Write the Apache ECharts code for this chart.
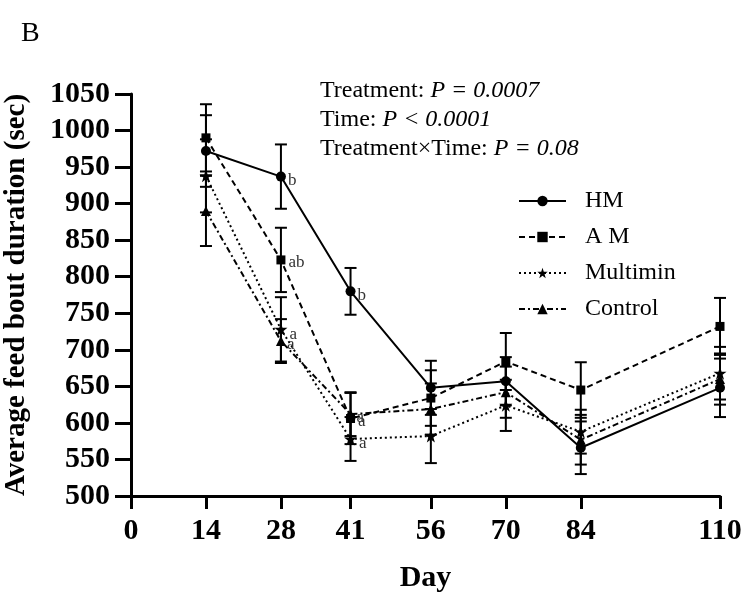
<!DOCTYPE html>
<html>
<head>
<meta charset="utf-8">
<script src="https://cdn.jsdelivr.net/npm/echarts@6/dist/echarts.min.js"></script>
<style>
  html, body { margin: 0; padding: 0; background: #fff; }
  #main { width: 748px; height: 601px; }
</style>
</head>
<body>
<div id="main"></div>
<script>
// 数据
var days = [14, 28, 41, 56, 70, 84, 110];
var dayTicks = [0, 14, 28, 41, 56, 70, 84, 110];

var hmMean = [972, 937, 780, 648, 657, 566, 648];
var hmSE = [49, 44, 32, 37, 33, 36, 40];
var hmLetters = ['', 'b', 'b', '', '', '', ''];

var amMean = [990, 823, 606, 634, 684, 645, 732];
var amSE = [46, 44, 35, 38, 39, 38, 39];
var amLetters = ['', 'ab', 'a', '', '', '', ''];

var multiMean = [938, 728, 578, 582, 624, 588, 668];
var multiSE = [50, 44, 30, 37, 35, 30, 36];
var multiLetters = ['', 'a', 'a', '', '', '', ''];

var ctrlMean = [890, 712, 612, 619, 642, 577, 660];
var ctrlSE = [48, 30, 30, 35, 35, 34, 35];
var ctrlLetters = ['', 'a', 'a', '', '', '', ''];

var serif = 'Liberation Serif';
var star = 'path://M0,-10 L2.35,-3.09 L9.51,-3.09 L3.8,1.18 L5.88,8.09 L0,3.82 L-5.88,8.09 L-3.8,1.18 L-9.51,-3.09 L-2.35,-3.09 Z';

function lineData(mean, letters, offset) {
	return days.map(function (d, i) {
		return {
			value: [d, mean[i]],
			label: {
				show: letters[i] !== '',
				formatter: letters[i],
				position: 'right',
				offset: offset,
				fontFamily: serif,
				fontSize: 17,
				color: '#333'
			}
		};
	});
}

function errData(mean, se) {
	return days.map(function (d, i) {
		return [d, mean[i] - se[i], mean[i] + se[i]];
	});
}

function renderErr(params, api) {
	var x = api.value(0);
	var top = api.coord([x, api.value(2)]);
	var bot = api.coord([x, api.value(1)]);
	var w = 6;
	var st = { stroke: '#000', lineWidth: 2 };
	return {
		type: 'group',
		children: [
			{ type: 'line', shape: { x1: top[0], y1: top[1], x2: bot[0], y2: bot[1] }, style: st },
			{ type: 'line', shape: { x1: top[0] - w, y1: top[1], x2: top[0] + w, y2: top[1] }, style: st },
			{ type: 'line', shape: { x1: bot[0] - w, y1: bot[1], x2: bot[0] + w, y2: bot[1] }, style: st }
		]
	};
}

function errSeries(mean, se) {
	return {
		type: 'custom',
		renderItem: renderErr,
		data: errData(mean, se),
		encode: { x: 0, y: [1, 2] },
		z: 1,
		silent: true
	};
}

function lineSeries(name, mean, letters, symbol, size, dash, offset) {
	return {
		type: 'line',
		name: name,
		data: lineData(mean, letters, offset),
		symbol: symbol,
		symbolSize: size,
		showAllSymbol: true,
		itemStyle: { color: '#000' },
		lineStyle: { color: '#000', width: 2, type: dash },
		z: 3
	};
}

echarts.init(document.getElementById('main')).setOption({
	animation: false,
	backgroundColor: '#fff',
	title: {
		text: 'B',
		left: 16,
		top: 15,
		textStyle: { fontFamily: serif, fontWeight: 'normal', fontSize: 28, color: '#000' }
	},
	grid: { left: 131, right: 28, top: 94, bottom: 105, outerBoundsMode: 'none', containLabel: false },
	legend: {
		orient: 'vertical',
		left: 513,
		top: 184,
		itemWidth: 47,
		itemHeight: 13,
		itemGap: 12,
		data: ['HM', 'A M', 'Multimin', 'Control'],
		textStyle: { fontFamily: serif, fontSize: 24, color: '#000', padding: [0, 0, 0, 14] }
	},
	graphic: [{
		type: 'text',
		left: 320,
		top: 79,
		style: {
			text: '{n|Treatment: }{i|P = 0.0007}\n{n|Time: }{i|P < 0.0001}\n{n|Treatment×Time: }{i|P = 0.08}',
			fill: '#000',
			rich: {
				n: { fontFamily: serif, fontSize: 24, lineHeight: 29, fill: '#000' },
				i: { fontFamily: serif, fontSize: 24, fontStyle: 'italic', lineHeight: 29, fill: '#000' }
			}
		}
	}],
	xAxis: {
		type: 'value',
		min: 0,
		max: 110,
		name: 'Day',
		nameLocation: 'middle',
		nameGap: 67,
		nameTextStyle: { fontFamily: serif, fontWeight: 'bold', fontSize: 30, color: '#000' },
		splitLine: { show: false },
		axisLine: { lineStyle: { color: '#000', width: 3 } },
		axisTick: { customValues: dayTicks, length: 13, lineStyle: { color: '#000', width: 3 } },
		axisLabel: {
			customValues: dayTicks,
			margin: 20,
			fontFamily: serif,
			fontWeight: 'bold',
			fontSize: 30,
			color: '#000'
		}
	},
	yAxis: {
		type: 'value',
		min: 500,
		max: 1050,
		interval: 50,
		name: 'Average feed bout duration (sec)',
		nameLocation: 'middle',
		nameGap: 100,
		nameTextStyle: { fontFamily: serif, fontWeight: 'bold', fontSize: 29, color: '#000' },
		splitLine: { show: false },
		axisLine: { show: true, lineStyle: { color: '#000', width: 3 } },
		axisTick: { show: true, length: 16, lineStyle: { color: '#000', width: 3 } },
		axisLabel: {
			margin: 21,
			formatter: function (v) { return String(v); },
			fontFamily: serif,
			fontWeight: 'bold',
			fontSize: 30,
			color: '#000'
		}
	},
	series: [
		errSeries(hmMean, hmSE),
		errSeries(amMean, amSE),
		errSeries(multiMean, multiSE),
		errSeries(ctrlMean, ctrlSE),
		lineSeries('HM', hmMean, hmLetters, 'circle', 10, 'solid', [-3, 4]),
		lineSeries('A M', amMean, amLetters, 'rect', 9, [6, 4], [-2, 3]),
		lineSeries('Multimin', multiMean, multiLetters, star, 13, [2, 3], [-3, 5]),
		lineSeries('Control', ctrlMean, ctrlLetters, 'triangle', 10, [6, 3, 2, 3], [-4, 3])
	]
});
</script>
</body>
</html>
